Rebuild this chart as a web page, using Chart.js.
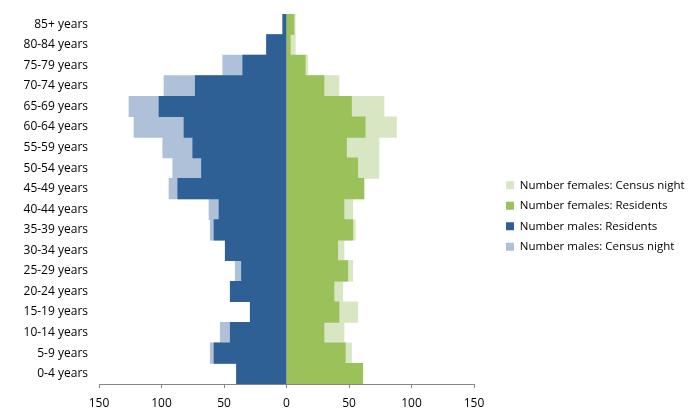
<!DOCTYPE html>
<html>
<head>
<meta charset="utf-8">
<script src="https://cdn.jsdelivr.net/npm/chart.js@4"></script>
<style>
  html, body { margin: 0; padding: 0; background: #fff; }
</style>
</head>
<body>
<canvas id="pyramid" width="696" height="418"></canvas>
<script>
// age groups, listed from the youngest (bottom of the pyramid) upwards
let ageLabels = ['0-4 years', '5-9 years', '10-14 years', '15-19 years', '20-24 years',
  '25-29 years', '30-34 years', '35-39 years', '40-44 years', '45-49 years', '50-54 years',
  '55-59 years', '60-64 years', '65-69 years', '70-74 years', '75-79 years', '80-84 years', '85+ years'];

let malesResidents   = [40, 58, 45, 29, 45, 36, 49, 58, 54, 87, 68, 75, 82, 102, 73, 35, 16, 3];
let malesCensus      = [40, 61, 53, 29, 45, 41, 49, 61, 62, 94, 91, 99, 122, 126, 98, 51, 16, 3];
let femalesResidents = [61, 47, 30, 42, 38, 49, 41, 53, 46, 62, 57, 48, 63, 52, 30, 15, 3, 6];
let femalesCensus    = [61, 52, 46, 57, 45, 53, 46, 55, 53, 61, 74, 74, 88, 78, 42, 17, 7, 7];

let axisTicks = [-150, -100, -50, 0, 50, 100, 150];

const textFont = { family: 'Open Sans', size: 12 };
const axisGrey = '#868686';

// males go to the left of zero
const toLeft = arr => arr.map(v => -v);

const pyramidData = {
  labels: ageLabels,
  datasets: [
    { label: 'Number females: Census night', data: femalesCensus, backgroundColor: '#d8e6c3', order: 2 },
    { label: 'Number females: Residents', data: femalesResidents, backgroundColor: '#9ac15a', order: 1 },
    { label: 'Number males: Residents', data: toLeft(malesResidents), backgroundColor: '#2e6096', order: 1 },
    { label: 'Number males: Census night', data: toLeft(malesCensus), backgroundColor: '#afc0d9', order: 2 }
  ]
};

// fixed legend column so the plot ends where the excel one does,
// then nudge the items away from the plot
const legendShift = {
  id: 'legendShift',
  beforeLayout(chart) {
    const lg = chart.legend;
    if (!lg._widePatch) {
      const fit = lg.fit;
      lg.fit = function() { fit.call(this); this.width = 222; };
      lg._widePatch = true;
    }
  },
  afterLayout(chart) {
    chart.legend.left += 23;
    chart.legend.right += 23;
  }
};

const pyramidOptions = {
  responsive: false,
  animation: false,
  indexAxis: 'y',
  layout: { padding: { top: 14, right: 0, bottom: 0, left: 0 } },
  datasets: { bar: { barPercentage: 1, categoryPercentage: 1 } },
  scales: {
    y: {
      stacked: true,
      reverse: true,
      grid: { display: false, drawTicks: false },
      border: { display: false },
      ticks: { color: '#000', font: textFont, padding: 11, autoSkip: false },
      afterFit(s) {
        s.width = 99;
        s.paddingTop = 0;
        s.paddingBottom = 0;
      }
    },
    x: {
      stacked: false,
      min: -150,
      max: 150,
      z: 1,
      afterBuildTicks(s) { s.ticks = axisTicks.map(v => ({ value: v })); },
      ticks: { color: '#000', font: textFont, padding: 8, callback: v => Math.abs(v) },
      grid: {
        color: ctx => (ctx.tick && ctx.tick.value === 0) ? axisGrey : 'rgba(0,0,0,0)',
        tickColor: axisGrey,
        tickLength: 4
      },
      border: { color: axisGrey },
      afterFit(s) { s.height = 34; }
    }
  },
  plugins: {
    legend: {
      position: 'right',
      labels: {
        boxWidth: 8,
        boxHeight: 8,
        padding: 9,
        color: '#000',
        font: { family: 'Open Sans', size: 11.5 },
        sort: (a, b) => a.datasetIndex - b.datasetIndex
      }
    },
    tooltip: { enabled: false }
  }
};

new Chart(document.getElementById('pyramid'), {
  type: 'bar',
  data: pyramidData,
  options: pyramidOptions,
  plugins: [legendShift]
});
</script>
</body>
</html>
